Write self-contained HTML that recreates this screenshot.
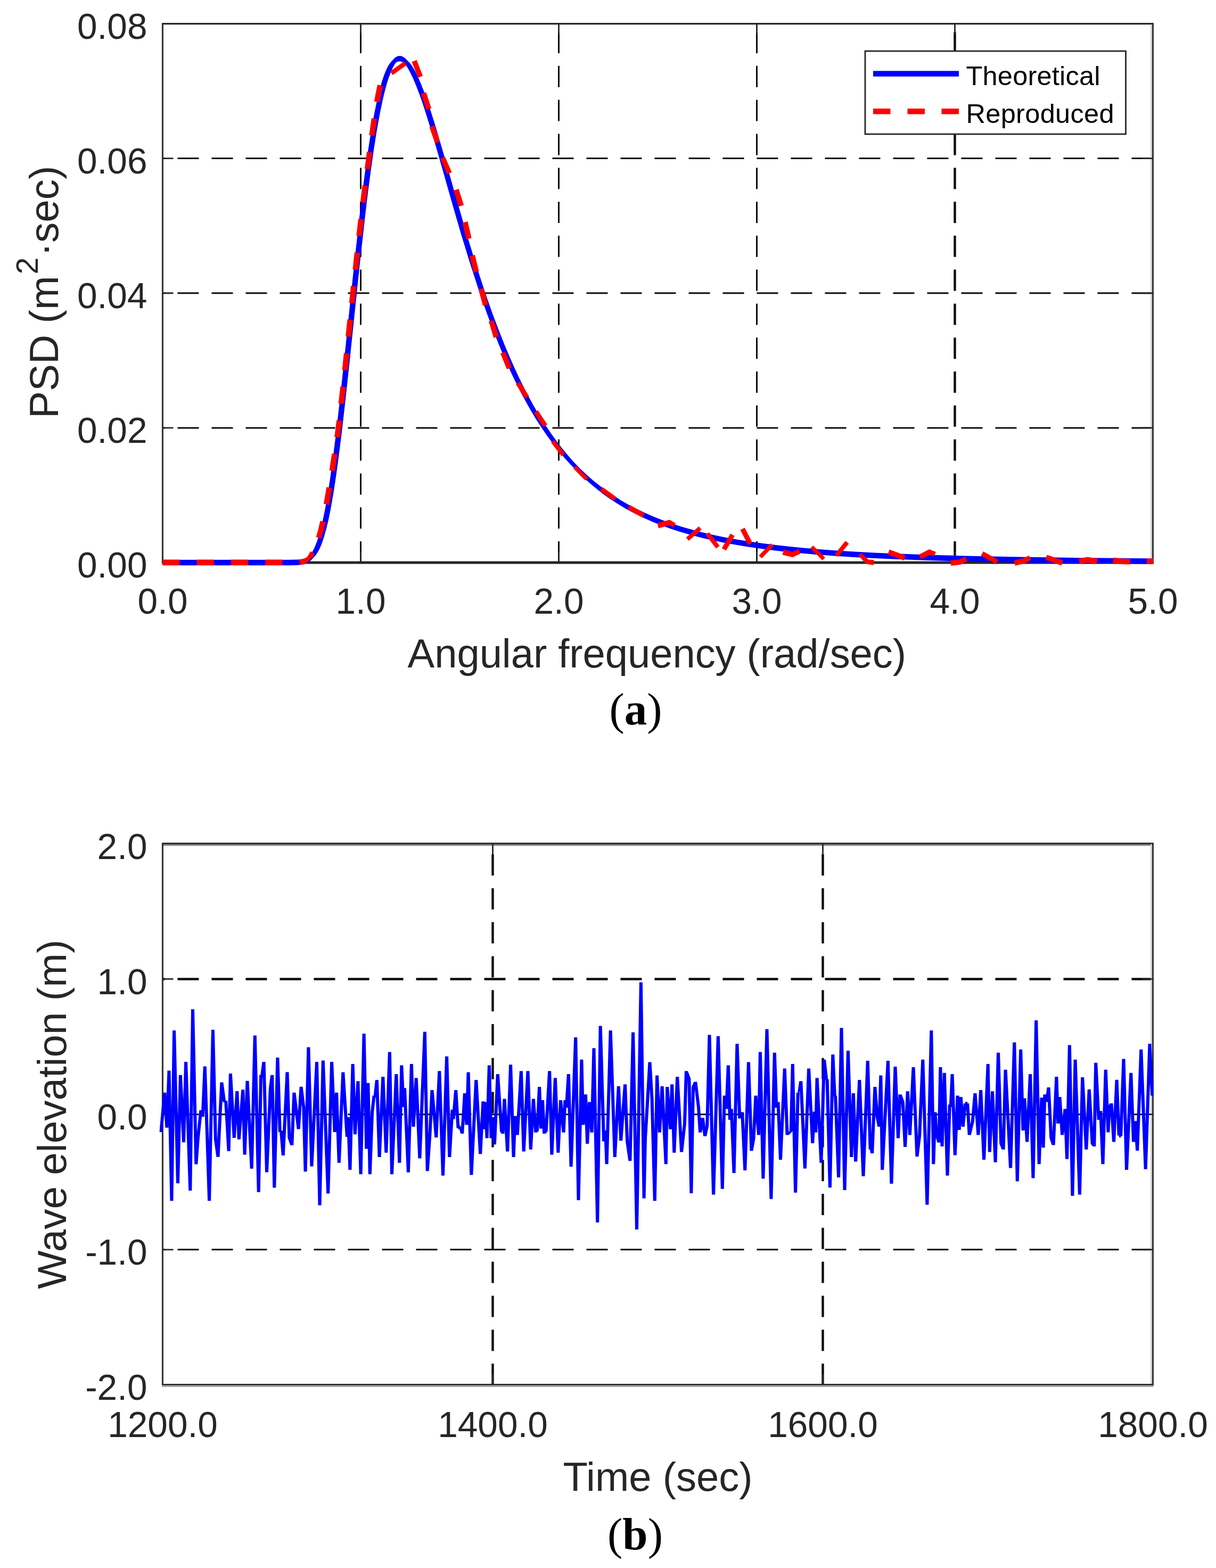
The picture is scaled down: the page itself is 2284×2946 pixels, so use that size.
<!DOCTYPE html>
<html lang="en"><head><meta charset="utf-8"><title>Wave spectrum and wave elevation</title>
<style>
html,body{margin:0;padding:0;background:#fff;}
body{width:2284px;height:2946px;overflow:hidden;}
svg{display:block;}
text{font-family:"Liberation Sans", sans-serif;}
</style></head><body>
<svg width="2284" height="2946" viewBox="0 0 2284 2946">
<rect width="2284" height="2946" fill="#fff"/>
<g id="plot-a">
<line x1="677.50" y1="1057.00" x2="677.50" y2="44.50" stroke="#0c0c0c" stroke-width="3.0" stroke-dasharray="40 23.8"/>
<line x1="1049.50" y1="1057.00" x2="1049.50" y2="44.50" stroke="#0c0c0c" stroke-width="3.0" stroke-dasharray="40 23.8"/>
<line x1="1421.50" y1="1057.00" x2="1421.50" y2="44.50" stroke="#0c0c0c" stroke-width="3.0" stroke-dasharray="40 23.8"/>
<line x1="1793.50" y1="1057.00" x2="1793.50" y2="44.50" stroke="#0c0c0c" stroke-width="4.4" stroke-dasharray="40 23.8"/>
<line x1="2165.50" y1="803.88" x2="305.50" y2="803.88" stroke="#0c0c0c" stroke-width="3.0" stroke-dasharray="40 24"/>
<line x1="2165.50" y1="550.75" x2="305.50" y2="550.75" stroke="#0c0c0c" stroke-width="3.0" stroke-dasharray="40 24"/>
<line x1="2165.50" y1="297.62" x2="305.50" y2="297.62" stroke="#0c0c0c" stroke-width="3.0" stroke-dasharray="40 24"/>
<line x1="304.10" y1="46.90" x2="2166.90" y2="46.90" stroke="#dcdcdc" stroke-width="2.0"/>
<line x1="303.10" y1="44.50" x2="303.10" y2="1057.00" stroke="#ededed" stroke-width="1.6"/>
<line x1="2162.60" y1="44.50" x2="2162.60" y2="1057.00" stroke="#cfcfcf" stroke-width="3.0"/>
<line x1="304.10" y1="1057.00" x2="2166.90" y2="1057.00" stroke="#262626" stroke-width="4.8"/>
<line x1="304.10" y1="44.50" x2="2166.90" y2="44.50" stroke="#262626" stroke-width="2.8"/>
<line x1="305.50" y1="44.50" x2="305.50" y2="1057.00" stroke="#262626" stroke-width="2.8"/>
<line x1="2165.50" y1="44.50" x2="2165.50" y2="1057.00" stroke="#262626" stroke-width="2.8"/>
<path d="M677.50 1057.0v-20.0M677.50 44.5v20.0M1049.50 1057.0v-20.0M1049.50 44.5v20.0M1421.50 1057.0v-20.0M1421.50 44.5v20.0M1793.50 1057.0v-20.0M1793.50 44.5v20.0M305.5 803.88h20.0M2165.5 803.88h-20.0M305.5 550.75h20.0M2165.5 550.75h-20.0M305.5 297.62h20.0M2165.5 297.62h-20.0" stroke="#262626" stroke-width="2.8" fill="none"/>
<path d="M305.5 1051.8L541.7 1051.7L553.7 1051.6L561.7 1051.2L567.6 1050.4L571.6 1049.4L575.7 1047.9L579.1 1046.0L582.6 1043.1L585.6 1038.6L588.8 1032.8L591.3 1027.5L593.9 1021.1L595.7 1016.4L599.2 1005.2L603.7 988.3L607.4 972.2L611.1 953.8L615.7 927.4L619.4 903.8L624.0 871.1L631.4 812.5L638.8 747.4L646.3 678.0L664.9 499.7L675.1 407.6L680.7 361.3L686.3 318.3L691.9 279.0L697.5 243.8L703.1 212.7L708.8 185.8L711.6 173.9L714.5 163.0L717.3 153.2L721.2 141.7L724.1 134.2L727.2 127.6L730.2 122.0L734.6 116.0L738.0 112.6L740.0 110.3L742.1 108.3L745.7 106.1L748.3 105.2L751.1 104.9L753.8 105.3L757.6 106.9L759.8 108.5L762.9 111.3L764.8 113.4L768.0 116.5L771.2 120.3L774.3 124.6L779.3 132.9L785.1 144.5L790.8 157.7L797.5 174.9L802.2 188.1L807.8 204.8L819.0 240.6L831.1 281.7L860.9 386.0L875.8 437.0L891.5 488.9L906.4 535.0L915.6 562.3L923.9 585.9L932.3 608.5L940.6 630.1L948.9 650.8L958.1 672.6L966.4 691.3L975.6 711.0L984.8 729.6L995.0 748.9L1004.1 765.4L1014.2 782.5L1024.3 798.5L1034.4 813.5L1044.5 827.6L1055.5 841.9L1066.5 855.3L1077.4 867.7L1089.3 880.2L1101.4 891.6L1113.5 902.2L1126.5 912.6L1139.4 922.3L1152.4 931.1L1166.2 939.9L1181.0 948.4L1196.7 956.6L1212.4 964.1L1229.0 971.3L1245.6 977.8L1263.1 984.1L1280.7 989.7L1300.1 995.3L1319.5 1000.3L1339.8 1005.0L1361.1 1009.4L1383.3 1013.4L1407.4 1017.3L1431.5 1020.8L1457.5 1024.0L1484.3 1027.0L1512.2 1029.7L1541.9 1032.2L1572.5 1034.4L1605.9 1036.5L1641.2 1038.4L1678.4 1040.1L1718.4 1041.6L1805.7 1044.2L1907.0 1046.3L2025.1 1047.9L2165.5 1049.2L2165.5 1059.7L2025.0 1058.4L1906.9 1056.8L1805.5 1054.7L1718.0 1052.1L1678.0 1050.5L1640.7 1048.8L1605.3 1046.9L1571.8 1044.8L1541.1 1042.6L1511.2 1040.1L1483.3 1037.4L1456.2 1034.4L1430.1 1031.1L1405.8 1027.6L1381.6 1023.6L1359.1 1019.5L1337.6 1015.0L1317.1 1010.2L1297.4 1005.0L1277.7 999.3L1259.9 993.5L1242.1 987.0L1225.3 980.3L1208.4 972.8L1192.5 965.0L1176.5 956.4L1161.6 947.5L1147.5 938.4L1134.4 929.2L1121.3 919.1L1108.3 908.2L1096.2 897.3L1084.1 885.5L1071.8 873.0L1060.4 860.5L1049.1 847.1L1037.8 832.6L1027.4 818.5L1017.0 803.3L1006.6 787.2L996.3 770.0L986.9 753.3L976.5 733.9L967.1 715.1L957.7 695.3L949.3 676.5L939.9 654.5L931.5 633.7L923.1 612.0L914.7 589.3L906.2 565.6L896.9 538.1L882.0 491.9L866.1 439.9L851.2 388.8L821.5 284.5L809.4 243.5L798.3 207.9L792.8 191.3L788.2 178.2L781.8 161.4L776.4 148.5L771.0 137.2L766.7 129.3L764.2 125.2L761.8 121.7L759.5 118.7L757.7 117.4L755.1 116.1L753.7 115.7L751.8 115.4L750.8 115.4L749.9 115.4L748.8 115.5L746.8 115.9L745.2 116.6L743.4 117.8L741.3 121.0L738.2 126.5L735.7 131.7L733.2 137.9L730.5 145.0L726.9 156.1L724.2 165.7L721.5 176.3L718.8 188.0L713.3 214.6L707.7 245.5L702.2 280.6L696.6 319.7L691.0 362.6L685.5 408.8L675.3 500.8L656.7 679.1L649.2 748.6L641.8 813.7L634.3 872.5L629.6 905.3L625.9 929.1L621.2 955.7L617.4 974.4L613.6 990.7L608.8 1008.1L605.0 1019.7L603.0 1024.7L600.0 1031.5L596.9 1037.2L592.7 1043.5L588.3 1048.3L584.3 1052.4L580.3 1055.7L575.1 1058.6L569.8 1060.4L562.7 1061.6L554.0 1062.1L541.7 1062.2L305.5 1062.2Z" fill="#0000ff"/>
<path d="M305.5 1051.5L337.5 1051.5L337.5 1062.0L305.5 1062.0ZM369.8 1051.5L401.8 1051.5L401.8 1062.0L369.8 1062.0ZM434.1 1051.5L466.1 1051.5L466.1 1062.0L434.1 1062.0ZM498.4 1051.5L530.4 1051.5L530.4 1062.0L498.4 1062.0ZM562.0 1051.1L564.7 1050.8L567.1 1050.4L569.5 1049.8L571.7 1049.2L573.8 1048.3L575.9 1046.9L577.8 1045.1L579.1 1043.0L580.3 1040.7L581.7 1038.3L583.2 1035.8L590.9 1040.4L589.4 1042.9L587.8 1045.5L585.8 1048.0L583.4 1050.3L581.1 1052.6L578.8 1055.0L576.1 1057.3L572.9 1059.0L569.7 1060.2L566.5 1061.0L563.4 1061.4ZM593.7 1009.1L594.5 1006.3L595.2 1003.5L596.0 1000.8L596.8 998.0L597.5 995.2L598.2 992.4L598.9 989.6L599.6 986.8L600.2 984.0L600.9 981.2L601.5 978.4L611.5 980.7L610.9 983.5L610.2 986.4L609.5 989.2L608.8 992.1L608.1 994.9L607.3 997.8L606.5 1000.6L605.8 1003.4L605.0 1006.3L604.1 1009.1L603.3 1011.9ZM607.9 946.6L608.4 943.7L608.9 940.9L609.4 938.0L609.9 935.1L610.4 932.3L610.9 929.4L611.4 926.5L611.9 923.7L612.4 920.8L612.9 918.0L613.4 915.1L623.6 916.9L623.1 919.7L622.6 922.6L622.1 925.5L621.6 928.4L621.1 931.2L620.6 934.1L620.1 936.9L619.6 939.8L619.1 942.7L618.6 945.5L618.0 948.4ZM618.5 883.7L619.0 880.8L619.4 878.0L619.9 875.1L620.3 872.2L620.8 869.3L621.2 866.4L621.7 863.6L622.1 860.7L622.6 857.8L623.0 855.0L623.4 852.1L633.7 853.7L633.3 856.5L632.8 859.4L632.4 862.3L631.9 865.2L631.5 868.1L631.0 870.9L630.6 873.8L630.1 876.7L629.7 879.5L629.2 882.4L628.8 885.3ZM628.1 820.8L628.6 817.9L629.0 815.0L629.4 812.2L629.7 809.3L630.1 806.4L630.5 803.6L630.8 800.7L631.1 797.8L631.5 794.9L631.8 792.0L632.2 789.2L642.5 790.4L642.2 793.3L641.8 796.1L641.5 799.0L641.2 801.9L640.8 804.8L640.4 807.8L640.1 810.6L639.7 813.6L639.3 816.5L638.8 819.4L638.4 822.2ZM635.7 757.9L636.0 755.0L636.4 752.1L636.7 749.3L637.0 746.4L637.3 743.5L637.6 740.6L638.0 737.7L638.3 734.8L638.6 731.9L638.9 729.0L639.2 726.1L649.6 727.3L649.3 730.2L649.0 733.0L648.6 735.9L648.3 738.8L648.0 741.7L647.7 744.6L647.4 747.5L647.1 750.4L646.7 753.3L646.4 756.2L646.1 759.1ZM642.6 694.9L642.9 692.1L643.2 689.2L643.5 686.3L643.8 683.4L644.1 680.5L644.4 677.6L644.7 674.7L645.0 671.8L645.3 668.9L645.6 666.0L645.9 663.1L656.3 664.2L656.0 667.1L655.7 670.0L655.4 672.9L655.1 675.8L654.8 678.7L654.5 681.6L654.2 684.5L653.9 687.4L653.6 690.3L653.3 693.2L653.0 696.1ZM649.2 632.0L649.5 629.1L649.8 626.2L650.1 623.3L650.4 620.4L650.7 617.5L651.0 614.6L651.3 611.7L651.6 608.8L651.9 605.9L652.2 603.0L652.5 600.1L662.9 601.2L662.6 604.1L662.3 607.0L662.0 609.9L661.7 612.8L661.4 615.7L661.1 618.6L660.8 621.5L660.5 624.4L660.2 627.3L659.9 630.1L659.6 633.0ZM655.8 569.0L656.1 566.1L656.4 563.2L656.7 560.3L657.0 557.4L657.3 554.5L657.6 551.6L657.9 548.7L658.2 545.8L658.5 542.9L658.8 540.0L659.1 537.1L669.5 538.2L669.2 541.1L668.9 544.0L668.6 546.9L668.3 549.8L668.0 552.7L667.7 555.6L667.4 558.5L667.1 561.4L666.8 564.3L666.5 567.2L666.2 570.0ZM662.4 505.9L662.8 503.0L663.1 500.2L663.4 497.3L663.7 494.4L664.0 491.5L664.3 488.6L664.6 485.7L664.9 482.8L665.3 479.9L665.6 477.0L665.9 474.1L676.3 475.3L676.0 478.1L675.6 481.0L675.3 483.9L675.0 486.8L674.7 489.7L674.4 492.6L674.1 495.5L673.8 498.4L673.4 501.3L673.1 504.2L672.8 507.1ZM669.4 442.9L669.7 440.0L670.0 437.1L670.4 434.2L670.7 431.3L671.0 428.5L671.3 425.6L671.7 422.7L672.0 419.8L672.3 416.9L672.7 414.0L673.0 411.1L683.4 412.3L683.0 415.2L682.7 418.1L682.4 421.0L682.0 423.9L681.7 426.8L681.4 429.6L681.0 432.5L680.7 435.4L680.4 438.3L680.1 441.2L679.7 444.1ZM676.7 379.9L677.1 377.0L677.5 374.1L677.8 371.2L678.2 368.3L678.5 365.4L678.9 362.5L679.3 359.6L679.6 356.8L680.0 353.9L680.4 351.0L680.7 348.1L691.1 349.4L690.7 352.3L690.3 355.2L690.0 358.1L689.6 360.9L689.2 363.8L688.9 366.7L688.5 369.6L688.2 372.5L687.8 375.4L687.4 378.2L687.1 381.1ZM684.9 316.8L685.3 313.9L685.7 311.0L686.1 308.1L686.5 305.3L686.9 302.4L687.3 299.5L687.6 296.7L688.0 293.8L688.4 290.9L688.7 288.0L689.1 285.1L699.4 286.4L699.1 289.3L698.7 292.2L698.3 295.1L698.0 298.0L697.6 300.9L697.2 303.8L696.8 306.7L696.4 309.6L696.0 312.5L695.6 315.3L695.2 318.2ZM693.3 253.8L693.7 250.9L694.2 248.0L694.6 245.1L695.0 242.2L695.4 239.4L695.8 236.5L696.2 233.7L696.6 230.8L697.0 227.9L697.4 225.0L697.8 222.1L708.1 223.5L707.7 226.4L707.3 229.3L706.9 232.2L706.5 235.0L706.1 237.9L705.7 240.8L705.3 243.7L704.9 246.6L704.4 249.5L704.0 252.4L703.6 255.2ZM702.8 190.6L703.3 187.7L703.9 184.8L704.4 181.9L705.0 179.1L705.5 176.2L706.1 173.4L706.7 170.5L707.2 167.6L707.9 164.7L708.5 161.9L709.1 159.0L719.1 161.2L718.5 164.1L717.9 166.9L717.3 169.7L716.8 172.5L716.2 175.3L715.6 178.2L715.1 181.1L714.5 183.9L714.0 186.7L713.5 189.6L713.0 192.4ZM732.8 134.0L758.8 115.4L763.7 122.3L737.7 140.9ZM782.6 112.7L794.1 142.5L785.0 146.0L773.5 116.2ZM800.2 173.0L810.2 203.4L800.8 206.6L790.8 176.2ZM815.8 235.8L826.5 265.9L817.2 269.2L806.5 239.1ZM835.9 294.5L848.6 323.8L839.7 327.6L827.0 298.3ZM861.5 354.7L871.1 385.2L861.5 388.2L851.9 357.7ZM878.4 416.1L885.7 447.2L875.7 449.5L868.4 418.4ZM891.9 478.7L899.6 509.8L889.7 512.3L882.0 481.2ZM908.4 541.0L916.9 571.9L907.1 574.6L898.6 543.7ZM927.6 601.4L936.9 632.1L927.3 635.0L918.0 604.3ZM949.0 660.5L961.0 690.2L952.0 693.8L940.0 664.1ZM976.3 717.0L993.6 743.9L986.2 748.7L968.9 721.8ZM1010.2 770.8L1027.9 797.5L1020.6 802.3L1002.9 775.6ZM1041.5 826.6L1061.1 851.9L1054.6 856.9L1035.0 831.6ZM1082.1 875.0L1104.7 897.6L1099.4 902.9L1076.8 880.3ZM1132.0 915.3L1157.9 934.1L1152.9 941.0L1127.0 922.2ZM1183.3 949.1L1211.3 964.6L1206.8 972.6L1178.8 957.1ZM1234.5 982.6L1257.9 976.4L1269.1 983.2L1264.5 990.8L1258.1 986.8L1237.1 992.4ZM1288.5 1009.9L1312.6 989.0L1317.8 995.0L1293.7 1015.9ZM1332.1 1000.1L1351.7 1025.4L1345.1 1030.5L1325.5 1005.2ZM1355.8 1029.9L1372.1 1002.4L1379.9 1007.0L1363.6 1034.5ZM1398.7 991.4L1413.4 1019.8L1405.2 1024.1L1390.5 995.7ZM1425.4 1043.8L1447.5 1020.7L1453.0 1025.9L1430.9 1049.0ZM1472.1 1032.6L1488.3 1036.7L1499.9 1031.4L1503.9 1040.0L1488.9 1047.1L1469.7 1042.4ZM1527.3 1024.9L1549.9 1047.5L1544.7 1052.7L1522.1 1030.1ZM1568.0 1041.1L1588.0 1016.2L1594.4 1021.4L1574.4 1046.3ZM1617.6 1038.9L1630.9 1051.3L1641.7 1051.9L1640.3 1062.1L1626.3 1059.1L1612.4 1044.1ZM1670.8 1032.5L1700.8 1043.6L1697.4 1052.9L1667.4 1041.8ZM1725.9 1042.0L1745.3 1032.0L1758.0 1036.9L1754.2 1045.7L1747.1 1042.2L1730.1 1050.4ZM1785.4 1052.6L1801.1 1051.3L1812.8 1046.1L1816.8 1054.7L1803.7 1061.1L1786.4 1063.0ZM1846.9 1036.0L1874.8 1051.7L1870.4 1059.7L1842.5 1044.0ZM1904.6 1052.8L1921.5 1049.0L1932.6 1043.7L1936.8 1052.1L1924.7 1058.4L1907.0 1062.8ZM1966.6 1042.4L1996.8 1053.0L1993.6 1062.4L1963.4 1051.8ZM2026.2 1049.2L2043.0 1046.6L2061.5 1049.5L2059.9 1059.7L2043.0 1057.0L2027.8 1059.4ZM2091.5 1047.5L2106.4 1049.6L2122.8 1050.0L2122.6 1060.4L2105.6 1060.0L2090.1 1057.7ZM2154.0 1049.3L2166.0 1049.3L2166.0 1059.8L2154.0 1059.8Z" fill="#ff0000"/>
<text transform="translate(276.5,1085.2) scale(0.986,1)" font-size="68.5" text-anchor="end" fill="#262626">0.00</text>
<text transform="translate(276.5,832.1) scale(0.986,1)" font-size="68.5" text-anchor="end" fill="#262626">0.02</text>
<text transform="translate(276.5,579.0) scale(0.986,1)" font-size="68.5" text-anchor="end" fill="#262626">0.04</text>
<text transform="translate(276.5,325.8) scale(0.986,1)" font-size="68.5" text-anchor="end" fill="#262626">0.06</text>
<text transform="translate(276.5,72.7) scale(0.986,1)" font-size="68.5" text-anchor="end" fill="#262626">0.08</text>
<text transform="translate(305.5,1152.6) scale(0.986,1)" font-size="68.5" text-anchor="middle" fill="#262626">0.0</text>
<text transform="translate(677.5,1152.6) scale(0.986,1)" font-size="68.5" text-anchor="middle" fill="#262626">1.0</text>
<text transform="translate(1049.5,1152.6) scale(0.986,1)" font-size="68.5" text-anchor="middle" fill="#262626">2.0</text>
<text transform="translate(1421.5,1152.6) scale(0.986,1)" font-size="68.5" text-anchor="middle" fill="#262626">3.0</text>
<text transform="translate(1793.5,1152.6) scale(0.986,1)" font-size="68.5" text-anchor="middle" fill="#262626">4.0</text>
<text transform="translate(2165.5,1152.6) scale(0.986,1)" font-size="68.5" text-anchor="middle" fill="#262626">5.0</text>
<text x="1233.8" y="1253.6" font-size="76" text-anchor="middle" fill="#262626" textLength="936.5" lengthAdjust="spacing">Angular frequency (rad/sec)</text>
<text transform="translate(109.4,786) rotate(-90)" font-size="76.5" text-anchor="start" fill="#262626">PSD (m<tspan font-size="57" dy="-38" dx="3">2</tspan><tspan dy="38" dx="2">·sec)</tspan></text>
<rect x="1625" y="96" width="489.5" height="156" fill="#fff" stroke="#262626" stroke-width="2.8"/>
<line x1="1640" y1="138.5" x2="1801" y2="138.5" stroke="#0000ff" stroke-width="10.6"/>
<path d="M1640 209.2h32.5M1704.5 209.2h32.5M1768.5 209.2h32.5" stroke="#ff0000" stroke-width="10.6" fill="none"/>
<text x="1814.5" y="159.8" font-size="50.5" text-anchor="start" fill="#000" textLength="252" lengthAdjust="spacing">Theoretical</text>
<text x="1814.5" y="230.8" font-size="50.5" text-anchor="start" fill="#000" textLength="278" lengthAdjust="spacing">Reproduced</text>
</g>
<text x="1194.0" y="1361.0" font-size="85" text-anchor="middle" fill="#000" style='font-family:"Liberation Serif", serif'>(<tspan font-weight="bold">a</tspan>)</text>
<g id="plot-b">
<line x1="925.50" y1="2602.00" x2="925.50" y2="1585.30" stroke="#0c0c0c" stroke-width="4.4" stroke-dasharray="40 23.8"/>
<line x1="1545.50" y1="2602.00" x2="1545.50" y2="1585.30" stroke="#0c0c0c" stroke-width="4.4" stroke-dasharray="40 23.8"/>
<line x1="2165.50" y1="1839.47" x2="305.50" y2="1839.47" stroke="#0c0c0c" stroke-width="4.4" stroke-dasharray="40 24"/>
<line x1="2165.50" y1="2093.65" x2="305.50" y2="2093.65" stroke="#0c0c0c" stroke-width="3.0" stroke-dasharray="40 24"/>
<line x1="2165.50" y1="2347.82" x2="305.50" y2="2347.82" stroke="#0c0c0c" stroke-width="3.0" stroke-dasharray="40 24"/>
<line x1="304.10" y1="1587.50" x2="2166.90" y2="1587.50" stroke="#808080" stroke-width="2.8"/>
<line x1="303.10" y1="1585.30" x2="303.10" y2="2602.00" stroke="#ededed" stroke-width="1.6"/>
<line x1="2162.60" y1="1585.30" x2="2162.60" y2="2602.00" stroke="#cfcfcf" stroke-width="3.0"/>
<line x1="304.10" y1="2604.40" x2="2166.90" y2="2604.40" stroke="#a8a8a8" stroke-width="3.0"/>
<line x1="304.10" y1="2601.40" x2="2166.90" y2="2601.40" stroke="#262626" stroke-width="2.8"/>
<line x1="304.10" y1="1584.70" x2="2166.90" y2="1584.70" stroke="#262626" stroke-width="2.8"/>
<line x1="305.50" y1="1585.30" x2="305.50" y2="2602.00" stroke="#262626" stroke-width="2.8"/>
<line x1="2165.50" y1="1585.30" x2="2165.50" y2="2602.00" stroke="#262626" stroke-width="2.8"/>
<path d="M925.50 2602.0v-20.0M925.50 1585.3v20.0M1545.50 2602.0v-20.0M1545.50 1585.3v20.0M305.5 2347.82h20.0M2165.5 2347.82h-20.0M305.5 2093.65h20.0M2165.5 2093.65h-20.0M305.5 1839.47h20.0M2165.5 1839.47h-20.0" stroke="#262626" stroke-width="2.8" fill="none"/>
<clipPath id="cb"><rect x="299.5" y="1585.3" width="1867.4" height="1016.7"/></clipPath>
<path clip-path="url(#cb)" d="M299.4 2127.0L306.2 2052.8L312.2 2052.8L305.4 2127.0ZM312.2 2052.8L316.4 2118.8L310.4 2118.8L306.2 2052.8ZM310.4 2118.8L314.5 2011.6L320.5 2011.6L316.4 2118.8ZM320.5 2011.6L325.4 2256.2L319.4 2256.2L314.5 2011.6ZM319.4 2256.2L324.1 1936.0L330.1 1936.0L325.4 2256.2ZM330.1 1936.0L337.0 2223.2L331.0 2223.2L324.1 1936.0ZM331.0 2223.2L335.9 2019.8L341.9 2019.8L337.0 2223.2ZM341.9 2019.8L348.0 2146.2L342.0 2146.2L335.9 2019.8ZM342.0 2146.2L346.1 1995.1L352.1 1995.1L348.0 2146.2ZM352.1 1995.1L360.3 2236.9L354.3 2236.9L346.1 1995.1ZM354.3 2236.9L359.0 1896.2L365.0 1896.2L360.3 2236.9ZM365.0 1896.2L371.3 2187.5L365.3 2187.5L359.0 1896.2ZM365.3 2187.5L368.9 2138.0L374.9 2138.0L371.3 2187.5ZM368.9 2138.0L374.4 2085.8L380.4 2085.8L374.9 2138.0ZM380.4 2085.8L383.7 2098.2L377.7 2098.2L374.4 2085.8ZM377.7 2098.2L381.8 2003.4L387.8 2003.4L383.7 2098.2ZM387.8 2003.4L396.1 2256.2L390.1 2256.2L381.8 2003.4ZM390.1 2256.2L396.9 1934.7L402.9 1934.7L396.1 2256.2ZM402.9 1934.7L407.9 2140.8L401.9 2140.8L396.9 1934.7ZM407.9 2140.8L412.5 2173.7L406.5 2173.7L401.9 2140.8ZM406.5 2173.7L413.4 2033.6L419.4 2033.6L412.5 2173.7ZM419.4 2033.6L424.4 2070.7L418.4 2070.7L413.4 2033.6ZM418.4 2070.7L421.1 2067.9L427.1 2067.9L424.4 2070.7ZM427.1 2067.9L432.6 2162.7L426.6 2162.7L421.1 2067.9ZM426.6 2162.7L429.9 2017.1L435.9 2017.1L432.6 2162.7ZM435.9 2017.1L442.8 2138.0L436.8 2138.0L429.9 2017.1ZM436.8 2138.0L442.3 2050.1L448.3 2050.1L442.8 2138.0ZM448.3 2050.1L451.8 2140.8L445.8 2140.8L442.3 2050.1ZM445.8 2140.8L453.3 2047.3L459.3 2047.3L451.8 2140.8ZM459.3 2047.3L462.6 2169.6L456.6 2169.6L453.3 2047.3ZM456.6 2169.6L461.5 2030.8L467.5 2030.8L462.6 2169.6ZM467.5 2030.8L475.7 2195.7L469.7 2195.7L461.5 2030.8ZM469.7 2195.7L475.8 1945.6L481.8 1945.6L475.7 2195.7ZM481.8 1945.6L488.7 2239.7L482.7 2239.7L475.8 1945.6ZM482.7 2239.7L487.1 2019.8L493.1 2019.8L488.7 2239.7ZM493.1 2019.8L494.4 2025.3L488.4 2025.3L487.1 2019.8ZM488.4 2025.3L492.6 1995.1L498.6 1995.1L494.4 2025.3ZM498.6 1995.1L504.0 2202.6L498.0 2202.6L492.6 1995.1ZM498.0 2202.6L504.9 2044.6L510.9 2044.6L504.0 2202.6ZM504.9 2044.6L508.2 2019.8L514.2 2019.8L510.9 2044.6ZM514.2 2019.8L518.3 2231.4L512.3 2231.4L508.2 2019.8ZM512.3 2231.4L518.4 1986.9L524.4 1986.9L518.3 2231.4ZM524.4 1986.9L528.8 2127.0L522.8 2127.0L518.4 1986.9ZM522.8 2127.0L525.0 2124.3L531.0 2124.3L528.8 2127.0ZM531.0 2124.3L534.8 2171.0L528.8 2171.0L525.0 2124.3ZM528.8 2171.0L536.5 2014.3L542.5 2014.3L534.8 2171.0ZM542.5 2014.3L546.4 2138.0L540.4 2138.0L536.5 2014.3ZM546.4 2138.0L551.3 2151.7L545.3 2151.7L540.4 2138.0ZM545.3 2151.7L549.4 2052.8L555.4 2052.8L551.3 2151.7ZM555.4 2052.8L563.7 2121.5L557.7 2121.5L549.4 2052.8ZM557.7 2121.5L562.6 2041.8L568.6 2041.8L563.7 2121.5ZM568.6 2041.8L573.3 2080.3L567.3 2080.3L562.6 2041.8ZM573.3 2080.3L576.6 2201.2L570.6 2201.2L567.3 2080.3ZM570.6 2201.2L576.4 1967.6L582.4 1967.6L576.6 2201.2ZM582.4 1967.6L588.4 2191.6L582.4 2191.6L576.4 1967.6ZM582.4 2191.6L592.0 1995.1L598.0 1995.1L588.4 2191.6ZM598.0 1995.1L603.5 2264.4L597.5 2264.4L592.0 1995.1ZM597.5 2264.4L603.8 1992.4L609.8 1992.4L603.5 2264.4ZM609.8 1992.4L619.2 2242.4L613.2 2242.4L603.8 1992.4ZM613.2 2242.4L620.1 1995.1L626.1 1995.1L619.2 2242.4ZM626.1 1995.1L631.6 2127.0L625.6 2127.0L620.1 1995.1ZM625.6 2127.0L629.1 2052.8L635.1 2052.8L631.6 2127.0ZM635.1 2052.8L639.8 2184.7L633.8 2184.7L629.1 2052.8ZM633.8 2184.7L641.3 2014.6L647.3 2014.6L639.8 2184.7ZM647.3 2014.6L654.9 2136.0L648.9 2136.0L641.3 2014.6ZM648.9 2136.0L650.8 2099.1L656.8 2099.1L654.9 2136.0ZM656.8 2099.1L660.4 2197.9L654.4 2197.9L650.8 2099.1ZM654.4 2197.9L659.6 1999.1L665.6 1999.1L660.4 2197.9ZM665.6 1999.1L669.9 2131.3L663.9 2131.3L659.6 1999.1ZM663.9 2131.3L669.4 2031.2L675.4 2031.2L669.9 2131.3ZM675.4 2031.2L680.6 2206.3L674.6 2206.3L669.4 2031.2ZM674.6 2206.3L680.6 1941.9L686.6 1941.9L680.6 2206.3ZM686.6 1941.9L691.3 2158.6L685.3 2158.6L680.6 1941.9ZM685.3 2158.6L688.4 2034.8L694.4 2034.8L691.3 2158.6ZM694.4 2034.8L697.8 2206.3L691.8 2206.3L688.4 2034.8ZM691.8 2206.3L696.1 2089.6L702.1 2089.6L697.8 2206.3ZM696.1 2089.6L699.6 2058.6L705.6 2058.6L702.1 2089.6ZM705.6 2058.6L707.3 2062.2L701.3 2062.2L699.6 2058.6ZM701.3 2062.2L704.9 2028.9L710.9 2028.9L707.3 2062.2ZM710.9 2028.9L715.6 2174.1L709.6 2174.1L704.9 2028.9ZM709.6 2174.1L716.3 2022.9L722.3 2022.9L715.6 2174.1ZM722.3 2022.9L728.3 2165.8L722.3 2165.8L716.3 2022.9ZM722.3 2165.8L728.9 1976.5L734.9 1976.5L728.3 2165.8ZM734.9 1976.5L739.0 2206.3L733.0 2206.3L728.9 1976.5ZM733.0 2206.3L741.3 2018.1L747.3 2018.1L739.0 2206.3ZM747.3 2018.1L753.3 2184.8L747.3 2184.8L741.3 2018.1ZM747.3 2184.8L751.3 2001.5L757.3 2001.5L753.3 2184.8ZM757.3 2001.5L760.9 2080.1L754.9 2080.1L751.3 2001.5ZM754.9 2080.1L757.0 2044.3L763.0 2044.3L760.9 2080.1ZM763.0 2044.3L769.9 2202.7L763.9 2202.7L757.0 2044.3ZM763.9 2202.7L769.9 1999.1L775.9 1999.1L769.9 2202.7ZM775.9 1999.1L779.5 2117.0L773.5 2117.0L769.9 1999.1ZM773.5 2117.0L778.7 2025.3L784.7 2025.3L779.5 2117.0ZM784.7 2025.3L791.4 2176.5L785.4 2176.5L778.7 2025.3ZM785.4 2176.5L794.9 1938.4L800.9 1938.4L791.4 2176.5ZM800.9 1938.4L805.7 2200.3L799.7 2200.3L794.9 1938.4ZM799.7 2200.3L804.4 2132.5L810.4 2132.5L805.7 2200.3ZM804.4 2132.5L808.5 2047.9L814.5 2047.9L810.4 2132.5ZM814.5 2047.9L822.3 2137.2L816.3 2137.2L808.5 2047.9ZM816.3 2137.2L822.3 2012.2L828.3 2012.2L822.3 2137.2ZM828.3 2012.2L835.0 2208.7L829.0 2208.7L822.3 2012.2ZM829.0 2208.7L836.1 1984.8L842.1 1984.8L835.0 2208.7ZM842.1 1984.8L847.3 2174.1L841.3 2174.1L836.1 1984.8ZM841.3 2174.1L846.6 2084.8L852.6 2084.8L847.3 2174.1ZM852.6 2084.8L854.5 2102.7L848.5 2102.7L846.6 2084.8ZM848.5 2102.7L853.2 2047.9L859.2 2047.9L854.5 2102.7ZM859.2 2047.9L863.5 2119.4L857.5 2119.4L853.2 2047.9ZM860.5 2116.4L864.6 2114.0L864.6 2120.0L860.5 2122.4ZM867.6 2117.0L871.2 2130.1L865.2 2130.1L861.6 2117.0ZM865.2 2130.1L869.9 2053.9L875.9 2053.9L871.2 2130.1ZM875.9 2053.9L879.5 2113.4L873.5 2113.4L869.9 2053.9ZM873.5 2113.4L876.6 2014.6L882.6 2014.6L879.5 2113.4ZM882.6 2014.6L888.3 2207.5L882.3 2207.5L876.6 2014.6ZM882.3 2207.5L891.3 2028.9L897.3 2028.9L888.3 2207.5ZM897.3 2028.9L905.2 2168.2L899.2 2168.2L891.3 2028.9ZM899.2 2168.2L904.4 2069.3L910.4 2069.3L905.2 2168.2ZM910.4 2069.3L912.1 2121.7L906.1 2121.7L904.4 2069.3ZM906.1 2121.7L909.2 2070.5L915.2 2070.5L912.1 2121.7ZM915.2 2070.5L917.6 2138.4L911.6 2138.4L909.2 2070.5ZM911.6 2138.4L915.9 2001.5L921.9 2001.5L917.6 2138.4ZM921.9 2001.5L925.5 2138.4L919.5 2138.4L915.9 2001.5ZM919.5 2138.4L922.3 2099.1L928.3 2099.1L925.5 2138.4ZM928.3 2099.1L931.9 2150.3L925.9 2150.3L922.3 2099.1ZM925.9 2150.3L931.8 2018.1L937.8 2018.1L931.9 2150.3ZM937.8 2018.1L945.0 2125.3L939.0 2125.3L931.8 2018.1ZM945.0 2125.3L947.4 2130.1L941.4 2130.1L939.0 2125.3ZM941.4 2130.1L944.5 2064.6L950.5 2064.6L947.4 2130.1ZM950.5 2064.6L956.2 2163.4L950.2 2163.4L944.5 2064.6ZM950.2 2163.4L956.1 2000.3L962.1 2000.3L956.2 2163.4ZM962.1 2000.3L967.6 2174.1L961.6 2174.1L956.1 2000.3ZM961.6 2174.1L964.5 2096.7L970.5 2096.7L967.6 2174.1ZM970.5 2096.7L974.7 2132.5L968.7 2132.5L964.5 2096.7ZM968.7 2132.5L975.9 2012.2L981.9 2012.2L974.7 2132.5ZM981.9 2012.2L986.7 2163.4L980.7 2163.4L975.9 2012.2ZM980.7 2163.4L988.5 2012.2L994.5 2012.2L986.7 2163.4ZM994.5 2012.2L999.8 2159.8L993.8 2159.8L988.5 2012.2ZM993.8 2159.8L998.9 2064.6L1004.9 2064.6L999.8 2159.8ZM1004.9 2064.6L1009.2 2127.7L1003.2 2127.7L998.9 2064.6ZM1003.2 2127.7L1006.1 2124.1L1012.1 2124.1L1009.2 2127.7ZM1006.1 2124.1L1010.1 2042.0L1016.1 2042.0L1012.1 2124.1ZM1016.1 2042.0L1019.2 2120.5L1013.2 2120.5L1010.1 2042.0ZM1013.2 2120.5L1016.1 2067.0L1022.1 2067.0L1019.2 2120.5ZM1022.1 2067.0L1025.2 2130.1L1019.2 2130.1L1016.1 2067.0ZM1019.2 2130.1L1022.7 2125.3L1028.7 2125.3L1025.2 2130.1ZM1022.7 2125.3L1029.2 2012.2L1035.2 2012.2L1028.7 2125.3ZM1035.2 2012.2L1039.4 2169.4L1033.4 2169.4L1029.2 2012.2ZM1033.4 2169.4L1039.9 2025.3L1045.9 2025.3L1039.4 2169.4ZM1045.9 2025.3L1051.3 2165.8L1045.3 2165.8L1039.9 2025.3ZM1045.3 2165.8L1050.1 2067.0L1056.1 2067.0L1051.3 2165.8ZM1056.1 2067.0L1061.6 2127.7L1055.6 2127.7L1050.1 2067.0ZM1055.6 2127.7L1058.4 2067.0L1064.4 2067.0L1061.6 2127.7ZM1064.4 2067.0L1066.8 2081.3L1060.8 2081.3L1058.4 2067.0ZM1060.8 2081.3L1064.9 2018.1L1070.9 2018.1L1066.8 2081.3ZM1070.9 2018.1L1075.6 2192.0L1069.6 2192.0L1064.9 2018.1ZM1069.6 2192.0L1078.2 1949.1L1084.2 1949.1L1075.6 2192.0ZM1084.2 1949.1L1089.5 2255.1L1083.5 2255.1L1078.2 1949.1ZM1083.5 2255.1L1089.4 1990.8L1095.4 1990.8L1089.5 2255.1ZM1095.4 1990.8L1098.3 2113.4L1092.3 2113.4L1089.4 1990.8ZM1092.3 2113.4L1097.0 2056.2L1103.0 2056.2L1098.3 2113.4ZM1103.0 2056.2L1106.1 2149.1L1100.1 2149.1L1097.0 2056.2ZM1100.1 2149.1L1104.2 2070.5L1110.2 2070.5L1106.1 2149.1ZM1110.2 2070.5L1114.5 2127.7L1108.5 2127.7L1104.2 2070.5ZM1108.5 2127.7L1112.5 1969.3L1118.5 1969.3L1114.5 2127.7ZM1118.5 1969.3L1125.2 2296.8L1119.2 2296.8L1112.5 1969.3ZM1119.2 2296.8L1124.7 1927.6L1130.7 1927.6L1125.2 2296.8ZM1130.7 1927.6L1137.1 2144.4L1131.1 2144.4L1124.7 1927.6ZM1131.1 2144.4L1134.2 2124.1L1140.2 2124.1L1137.1 2144.4ZM1140.2 2124.1L1142.6 2187.2L1136.6 2187.2L1134.2 2124.1ZM1136.6 2187.2L1143.7 1936.0L1149.7 1936.0L1142.6 2187.2ZM1149.7 1936.0L1157.8 2174.1L1151.8 2174.1L1143.7 1936.0ZM1151.8 2174.1L1158.9 2040.8L1164.9 2040.8L1157.8 2174.1ZM1164.9 2040.8L1169.2 2143.2L1163.2 2143.2L1158.9 2040.8ZM1163.2 2143.2L1167.3 2087.2L1173.3 2087.2L1169.2 2143.2ZM1167.3 2087.2L1171.1 2037.2L1177.1 2037.2L1173.3 2087.2ZM1177.1 2037.2L1181.1 2144.4L1175.1 2144.4L1171.1 2037.2ZM1181.1 2144.4L1186.4 2181.3L1180.4 2181.3L1175.1 2144.4ZM1180.4 2181.3L1186.1 1939.5L1192.1 1939.5L1186.4 2181.3ZM1192.1 1939.5L1199.0 2309.9L1193.0 2309.9L1186.1 1939.5ZM1193.0 2309.9L1200.9 1845.5L1206.9 1845.5L1199.0 2309.9ZM1206.9 1845.5L1212.6 2251.5L1206.6 2251.5L1200.9 1845.5ZM1206.6 2251.5L1209.0 2139.6L1215.0 2139.6L1212.6 2251.5ZM1209.0 2139.6L1217.5 1995.5L1223.5 1995.5L1215.0 2139.6ZM1223.5 1995.5L1227.6 2064.6L1221.6 2064.6L1217.5 1995.5ZM1227.6 2064.6L1232.8 2256.3L1226.8 2256.3L1221.6 2064.6ZM1226.8 2256.3L1231.1 2020.5L1237.1 2020.5L1232.8 2256.3ZM1237.1 2020.5L1241.9 2127.7L1235.9 2127.7L1231.1 2020.5ZM1235.9 2127.7L1240.6 2040.8L1246.6 2040.8L1241.9 2127.7ZM1246.6 2040.8L1253.8 2187.2L1247.8 2187.2L1240.6 2040.8ZM1247.8 2187.2L1250.2 2042.0L1256.2 2042.0L1253.8 2187.2ZM1256.2 2042.0L1262.1 2121.7L1256.1 2121.7L1250.2 2042.0ZM1256.1 2121.7L1259.2 2037.2L1265.2 2037.2L1262.1 2121.7ZM1265.2 2037.2L1269.3 2165.8L1263.3 2165.8L1259.2 2037.2ZM1263.3 2165.8L1269.2 2022.9L1275.2 2022.9L1269.3 2165.8ZM1275.2 2022.9L1283.1 2164.6L1277.1 2164.6L1269.2 2022.9ZM1277.1 2164.6L1283.0 2111.0L1289.0 2111.0L1283.1 2164.6ZM1283.0 2111.0L1285.9 2012.2L1291.9 2012.2L1289.0 2111.0ZM1291.9 2012.2L1297.4 2026.5L1291.4 2026.5L1285.9 2012.2ZM1297.4 2026.5L1301.4 2242.0L1295.4 2242.0L1291.4 2026.5ZM1295.4 2242.0L1299.0 2042.0L1305.0 2042.0L1301.4 2242.0ZM1299.0 2042.0L1303.3 2032.4L1309.3 2032.4L1305.0 2042.0ZM1309.3 2032.4L1315.0 2080.1L1309.0 2080.1L1303.3 2032.4ZM1315.0 2080.1L1318.1 2127.7L1312.1 2127.7L1309.0 2080.1ZM1312.1 2127.7L1316.8 2100.3L1322.8 2100.3L1318.1 2127.7ZM1322.8 2100.3L1327.1 2134.8L1321.1 2134.8L1316.8 2100.3ZM1321.1 2134.8L1325.2 2115.8L1331.2 2115.8L1327.1 2134.8ZM1325.2 2115.8L1329.5 1944.3L1335.5 1944.3L1331.2 2115.8ZM1335.5 1944.3L1343.1 2244.4L1337.1 2244.4L1329.5 1944.3ZM1337.1 2244.4L1345.9 1946.7L1351.9 1946.7L1343.1 2244.4ZM1351.9 1946.7L1359.8 2233.7L1353.8 2233.7L1345.9 1946.7ZM1353.8 2233.7L1357.7 2058.6L1363.7 2058.6L1359.8 2233.7ZM1363.7 2058.6L1367.3 2083.6L1361.3 2083.6L1357.7 2058.6ZM1361.3 2083.6L1364.9 2001.5L1370.9 2001.5L1367.3 2083.6ZM1370.9 2001.5L1374.0 2103.9L1368.0 2103.9L1364.9 2001.5ZM1368.0 2103.9L1370.8 2083.6L1376.8 2083.6L1374.0 2103.9ZM1376.8 2083.6L1381.6 2203.9L1375.6 2203.9L1370.8 2083.6ZM1375.6 2203.9L1381.5 1961.0L1387.5 1961.0L1381.6 2203.9ZM1387.5 1961.0L1392.3 2101.5L1386.3 2101.5L1381.5 1961.0ZM1386.3 2101.5L1391.1 2089.6L1397.1 2089.6L1392.3 2101.5ZM1397.1 2089.6L1402.3 2199.1L1396.3 2199.1L1391.1 2089.6ZM1396.3 2199.1L1403.0 1995.5L1409.0 1995.5L1402.3 2199.1ZM1409.0 1995.5L1414.4 2162.2L1408.4 2162.2L1403.0 1995.5ZM1408.4 2162.2L1412.5 2139.6L1418.5 2139.6L1414.4 2162.2ZM1412.5 2139.6L1416.5 2058.6L1422.5 2058.6L1418.5 2139.6ZM1422.5 2058.6L1428.0 2132.5L1422.0 2132.5L1416.5 2058.6ZM1422.0 2132.5L1424.9 1976.5L1430.9 1976.5L1428.0 2132.5ZM1430.9 1976.5L1436.4 2214.6L1430.4 2214.6L1424.9 1976.5ZM1430.4 2214.6L1437.5 1933.6L1443.5 1933.6L1436.4 2214.6ZM1443.5 1933.6L1451.4 2252.7L1445.4 2252.7L1437.5 1933.6ZM1445.4 2252.7L1451.8 1977.7L1457.8 1977.7L1451.4 2252.7ZM1457.8 1977.7L1461.4 2081.3L1455.4 2081.3L1451.8 1977.7ZM1455.4 2081.3L1458.5 2070.5L1464.5 2070.5L1461.4 2081.3ZM1464.5 2070.5L1469.0 2178.9L1463.0 2178.9L1458.5 2070.5ZM1463.0 2178.9L1470.8 2007.4L1476.8 2007.4L1469.0 2178.9ZM1476.8 2007.4L1481.6 2132.5L1475.6 2132.5L1470.8 2007.4ZM1475.6 2132.5L1482.7 2125.3L1488.7 2125.3L1481.6 2132.5ZM1482.7 2125.3L1485.8 1999.1L1491.8 1999.1L1488.7 2125.3ZM1491.8 1999.1L1497.1 2240.8L1491.1 2240.8L1485.8 1999.1ZM1491.1 2240.8L1495.8 2052.7L1501.8 2052.7L1497.1 2240.8ZM1498.8 2049.7L1501.2 2048.5L1501.2 2054.5L1498.8 2055.7ZM1498.2 2051.5L1501.3 2031.2L1507.3 2031.2L1504.2 2051.5ZM1507.3 2031.2L1514.9 2195.6L1508.9 2195.6L1501.3 2031.2ZM1508.9 2195.6L1516.1 2007.4L1522.1 2007.4L1514.9 2195.6ZM1522.1 2007.4L1529.2 2147.9L1523.2 2147.9L1516.1 2007.4ZM1523.2 2147.9L1526.8 2088.4L1532.8 2088.4L1529.2 2147.9ZM1532.8 2088.4L1535.2 2127.7L1529.2 2127.7L1526.8 2088.4ZM1529.2 2127.7L1531.6 2025.3L1537.6 2025.3L1535.2 2127.7ZM1537.6 2025.3L1545.4 2184.8L1539.4 2184.8L1531.6 2025.3ZM1539.4 2184.8L1545.1 1990.8L1551.1 1990.8L1545.4 2184.8ZM1551.1 1990.8L1555.4 2028.9L1549.4 2028.9L1545.1 1990.8ZM1552.4 2025.9L1553.6 2024.7L1553.6 2030.7L1552.4 2031.9ZM1556.6 2027.7L1561.9 2231.3L1555.9 2231.3L1550.6 2027.7ZM1555.9 2231.3L1561.3 1981.2L1567.3 1981.2L1561.9 2231.3ZM1567.3 1981.2L1570.9 2059.8L1564.9 2059.8L1561.3 1981.2ZM1567.9 2056.8L1569.1 2055.6L1569.1 2061.6L1567.9 2062.8ZM1572.1 2058.6L1578.1 2212.2L1572.1 2212.2L1566.1 2058.6ZM1572.1 2212.2L1577.5 1931.2L1583.5 1931.2L1578.1 2212.2ZM1583.5 1931.2L1589.5 2236.0L1583.5 2236.0L1577.5 1931.2ZM1583.5 2236.0L1589.9 1974.1L1595.9 1974.1L1589.5 2236.0ZM1595.9 1974.1L1602.3 2174.1L1596.3 2174.1L1589.9 1974.1ZM1596.3 2174.1L1599.9 2053.9L1605.9 2053.9L1602.3 2174.1ZM1605.9 2053.9L1610.2 2182.5L1604.2 2182.5L1599.9 2053.9ZM1604.2 2182.5L1611.3 2028.9L1617.3 2028.9L1610.2 2182.5ZM1617.3 2028.9L1624.5 2209.9L1618.5 2209.9L1611.3 2028.9ZM1618.5 2209.9L1626.8 1993.1L1632.8 1993.1L1624.5 2209.9ZM1632.8 1993.1L1637.6 2159.8L1631.6 2159.8L1626.8 1993.1ZM1631.6 2159.8L1633.3 2156.3L1639.3 2156.3L1637.6 2159.8ZM1639.3 2156.3L1641.2 2167.0L1635.2 2167.0L1633.3 2156.3ZM1635.2 2167.0L1640.4 2042.0L1646.4 2042.0L1641.2 2167.0ZM1646.4 2042.0L1650.7 2099.1L1644.7 2099.1L1640.4 2042.0ZM1650.7 2099.1L1654.3 2117.0L1648.3 2117.0L1644.7 2099.1ZM1648.3 2117.0L1651.4 2020.5L1657.4 2020.5L1654.3 2117.0ZM1657.4 2020.5L1660.2 2197.9L1654.2 2197.9L1651.4 2020.5ZM1654.2 2197.9L1664.9 1993.1L1670.9 1993.1L1660.2 2197.9ZM1670.9 1993.1L1677.4 2224.1L1671.4 2224.1L1664.9 1993.1ZM1671.4 2224.1L1678.5 2003.9L1684.5 2003.9L1677.4 2224.1ZM1684.5 2003.9L1690.0 2138.4L1684.0 2138.4L1678.5 2003.9ZM1684.0 2138.4L1687.6 2056.2L1693.6 2056.2L1690.0 2138.4ZM1693.6 2056.2L1697.1 2065.8L1691.1 2065.8L1687.6 2056.2ZM1697.1 2065.8L1698.8 2070.5L1692.8 2070.5L1691.1 2065.8ZM1698.8 2070.5L1703.1 2155.1L1697.1 2155.1L1692.8 2070.5ZM1697.1 2155.1L1701.8 2050.3L1707.8 2050.3L1703.1 2155.1ZM1707.8 2050.3L1711.9 2132.5L1705.9 2132.5L1701.8 2050.3ZM1705.9 2132.5L1712.6 2005.0L1718.6 2005.0L1711.9 2132.5ZM1718.6 2005.0L1725.4 2172.9L1719.4 2172.9L1712.6 2005.0ZM1719.4 2172.9L1724.1 2134.8L1730.1 2134.8L1725.4 2172.9ZM1724.1 2134.8L1730.3 1990.8L1736.3 1990.8L1730.1 2134.8ZM1736.3 1990.8L1744.4 2263.4L1738.4 2263.4L1730.3 1990.8ZM1738.4 2263.4L1746.3 1936.0L1752.3 1936.0L1744.4 2263.4ZM1752.3 1936.0L1756.3 2187.2L1750.3 2187.2L1746.3 1936.0ZM1750.3 2187.2L1753.4 2089.6L1759.4 2089.6L1756.3 2187.2ZM1759.4 2089.6L1761.8 2130.1L1755.8 2130.1L1753.4 2089.6ZM1761.8 2130.1L1766.6 2146.7L1760.6 2146.7L1755.8 2130.1ZM1760.6 2146.7L1763.4 2005.0L1769.4 2005.0L1766.6 2146.7ZM1769.4 2005.0L1772.5 2153.9L1766.5 2153.9L1763.4 2005.0ZM1766.5 2153.9L1770.8 2015.8L1776.8 2015.8L1772.5 2153.9ZM1776.8 2015.8L1782.5 2208.7L1776.5 2208.7L1770.8 2015.8ZM1776.5 2208.7L1780.8 2075.3L1786.8 2075.3L1782.5 2208.7ZM1786.8 2075.3L1788.7 2080.1L1782.7 2080.1L1780.8 2075.3ZM1782.7 2080.1L1785.6 2018.1L1791.6 2018.1L1788.7 2080.1ZM1791.6 2018.1L1796.8 2170.6L1790.8 2170.6L1785.6 2018.1ZM1790.8 2170.6L1795.6 2058.6L1801.6 2058.6L1796.8 2170.6ZM1801.6 2058.6L1804.7 2122.9L1798.7 2122.9L1795.6 2058.6ZM1798.7 2122.9L1801.8 2061.0L1807.8 2061.0L1804.7 2122.9ZM1807.8 2061.0L1811.8 2117.0L1805.8 2117.0L1801.8 2061.0ZM1805.8 2117.0L1809.9 2072.9L1815.9 2072.9L1811.8 2117.0ZM1812.9 2069.9L1817.2 2069.9L1817.2 2075.9L1812.9 2075.9ZM1820.2 2072.9L1823.7 2132.5L1817.7 2132.5L1814.2 2072.9ZM1817.7 2132.5L1823.7 2107.4L1829.7 2107.4L1823.7 2132.5ZM1823.7 2107.4L1828.5 2053.9L1834.5 2053.9L1829.7 2107.4ZM1834.5 2053.9L1840.4 2132.5L1834.4 2132.5L1828.5 2053.9ZM1834.4 2132.5L1839.2 2047.9L1845.2 2047.9L1840.4 2132.5ZM1845.2 2047.9L1851.1 2178.9L1845.1 2178.9L1839.2 2047.9ZM1845.1 2178.9L1852.7 1999.1L1858.7 1999.1L1851.1 2178.9ZM1858.7 1999.1L1861.8 2164.6L1855.8 2164.6L1852.7 1999.1ZM1855.8 2164.6L1861.1 2050.3L1867.1 2050.3L1861.8 2164.6ZM1867.1 2050.3L1872.6 2183.7L1866.6 2183.7L1861.1 2050.3ZM1866.6 2183.7L1872.0 1977.7L1878.0 1977.7L1872.6 2183.7ZM1878.0 1977.7L1883.3 2149.1L1877.3 2149.1L1872.0 1977.7ZM1883.3 2149.1L1887.6 2159.8L1881.6 2159.8L1877.3 2149.1ZM1881.6 2159.8L1885.6 2009.8L1891.6 2009.8L1887.6 2159.8ZM1891.6 2009.8L1901.1 2194.4L1895.1 2194.4L1885.6 2009.8ZM1895.1 2194.4L1902.3 1958.6L1908.3 1958.6L1901.1 2194.4ZM1908.3 1958.6L1913.8 2219.4L1907.8 2219.4L1902.3 1958.6ZM1907.8 2219.4L1914.2 1971.7L1920.2 1971.7L1913.8 2219.4ZM1920.2 1971.7L1924.5 2124.1L1918.5 2124.1L1914.2 1971.7ZM1918.5 2124.1L1921.3 2063.4L1927.3 2063.4L1924.5 2124.1ZM1927.3 2063.4L1932.1 2145.6L1926.1 2145.6L1921.3 2063.4ZM1926.1 2145.6L1932.1 2018.1L1938.1 2018.1L1932.1 2145.6ZM1938.1 2018.1L1943.5 2213.4L1937.5 2213.4L1932.1 2018.1ZM1937.5 2213.4L1943.2 1916.9L1949.2 1916.9L1943.5 2213.4ZM1949.2 1916.9L1954.7 2187.2L1948.7 2187.2L1943.2 1916.9ZM1948.7 2187.2L1953.5 2062.2L1959.5 2062.2L1954.7 2187.2ZM1959.5 2062.2L1962.6 2156.3L1956.6 2156.3L1953.5 2062.2ZM1956.6 2156.3L1959.4 2056.2L1965.4 2056.2L1962.6 2156.3ZM1965.4 2056.2L1969.0 2070.5L1963.0 2070.5L1959.4 2056.2ZM1963.0 2070.5L1966.6 2043.1L1972.6 2043.1L1969.0 2070.5ZM1972.6 2043.1L1977.3 2138.4L1971.3 2138.4L1966.6 2043.1ZM1977.3 2138.4L1981.6 2151.5L1975.6 2151.5L1971.3 2138.4ZM1975.6 2151.5L1981.4 2022.9L1987.4 2022.9L1981.6 2151.5ZM1987.4 2022.9L1990.4 2111.0L1984.4 2111.0L1981.4 2022.9ZM1984.4 2111.0L1987.5 2061.0L1993.5 2061.0L1990.4 2111.0ZM1993.5 2061.0L1998.1 2132.5L1992.1 2132.5L1987.5 2061.0ZM1992.1 2132.5L1997.5 2083.6L2003.5 2083.6L1998.1 2132.5ZM2003.5 2083.6L2007.1 2177.7L2001.1 2177.7L1997.5 2083.6ZM2001.1 2177.7L2005.9 1963.4L2011.9 1963.4L2007.1 2177.7ZM2011.9 1963.4L2017.4 2246.8L2011.4 2246.8L2005.9 1963.4ZM2011.4 2246.8L2016.6 1990.8L2022.6 1990.8L2017.4 2246.8ZM2022.6 1990.8L2030.9 2244.4L2024.9 2244.4L2016.6 1990.8ZM2024.9 2244.4L2030.2 2024.1L2036.2 2024.1L2030.9 2244.4ZM2036.2 2024.1L2043.3 2159.8L2037.3 2159.8L2030.2 2024.1ZM2037.3 2159.8L2042.8 2046.7L2048.8 2046.7L2043.3 2159.8ZM2048.8 2046.7L2054.7 2149.1L2048.7 2149.1L2042.8 2046.7ZM2054.7 2149.1L2058.3 2153.9L2052.3 2153.9L2048.7 2149.1ZM2052.3 2153.9L2055.2 1996.7L2061.2 1996.7L2058.3 2153.9ZM2061.2 1996.7L2066.7 2103.9L2060.7 2103.9L2055.2 1996.7ZM2060.7 2103.9L2064.2 2087.2L2070.2 2087.2L2066.7 2103.9ZM2070.2 2087.2L2074.5 2187.2L2068.5 2187.2L2064.2 2087.2ZM2068.5 2187.2L2073.8 2009.8L2079.8 2009.8L2074.5 2187.2ZM2079.8 2009.8L2084.4 2127.6L2078.4 2127.6L2073.8 2009.8ZM2078.4 2127.6L2080.8 2080.0L2086.8 2080.0L2084.4 2127.6ZM2080.8 2080.0L2084.4 2072.9L2090.4 2072.9L2086.8 2080.0ZM2090.4 2072.9L2095.1 2145.5L2089.1 2145.5L2084.4 2072.9ZM2089.1 2145.5L2094.6 2028.8L2100.6 2028.8L2095.1 2145.5ZM2100.6 2028.8L2104.7 2133.6L2098.7 2133.6L2094.6 2028.8ZM2101.7 2130.6L2105.2 2131.8L2105.2 2137.8L2101.7 2136.6ZM2102.2 2134.8L2107.5 1989.5L2113.5 1989.5L2108.2 2134.8ZM2113.5 1989.5L2119.0 2197.9L2113.0 2197.9L2107.5 1989.5ZM2113.0 2197.9L2121.3 2015.7L2127.3 2015.7L2119.0 2197.9ZM2127.3 2015.7L2132.0 2145.5L2126.0 2145.5L2121.3 2015.7ZM2126.0 2145.5L2129.6 2106.2L2135.6 2106.2L2132.0 2145.5ZM2135.6 2106.2L2139.2 2162.1L2133.2 2162.1L2129.6 2106.2ZM2133.2 2162.1L2140.3 1971.7L2146.3 1971.7L2139.2 2162.1ZM2146.3 1971.7L2154.7 2196.7L2148.7 2196.7L2140.3 1971.7ZM2148.7 2196.7L2156.5 1961.0L2162.5 1961.0L2154.7 2196.7ZM2162.5 1961.0L2167.3 2058.6L2161.3 2058.6L2156.5 1961.0ZM2161.3 2058.6L2163.2 2041.9L2169.2 2041.9L2167.3 2058.6Z" fill="#0000ff"/>
<text transform="translate(276.5,2630.2) scale(0.986,1)" font-size="68.5" text-anchor="end" fill="#262626">-2.0</text>
<text transform="translate(276.5,2376.0) scale(0.986,1)" font-size="68.5" text-anchor="end" fill="#262626">-1.0</text>
<text transform="translate(276.5,2121.8) scale(0.986,1)" font-size="68.5" text-anchor="end" fill="#262626">0.0</text>
<text transform="translate(276.5,1867.7) scale(0.986,1)" font-size="68.5" text-anchor="end" fill="#262626">1.0</text>
<text transform="translate(276.5,1613.5) scale(0.986,1)" font-size="68.5" text-anchor="end" fill="#262626">2.0</text>
<text transform="translate(305.5,2700.0) scale(0.986,1)" font-size="68.5" text-anchor="middle" fill="#262626">1200.0</text>
<text transform="translate(925.5,2700.0) scale(0.986,1)" font-size="68.5" text-anchor="middle" fill="#262626">1400.0</text>
<text transform="translate(1545.5,2700.0) scale(0.986,1)" font-size="68.5" text-anchor="middle" fill="#262626">1600.0</text>
<text transform="translate(2165.5,2700.0) scale(0.986,1)" font-size="68.5" text-anchor="middle" fill="#262626">1800.0</text>
<text x="1235.5" y="2801.0" font-size="76" text-anchor="middle" fill="#262626">Time (sec)</text>
<text transform="translate(123.5,2093.65) rotate(-90)" font-size="76.5" text-anchor="middle" fill="#262626">Wave elevation (m)</text>
</g>
<text x="1193.0" y="2911.0" font-size="85" text-anchor="middle" fill="#000" style='font-family:"Liberation Serif", serif'>(<tspan font-weight="bold">b</tspan>)</text>
</svg></body></html>
